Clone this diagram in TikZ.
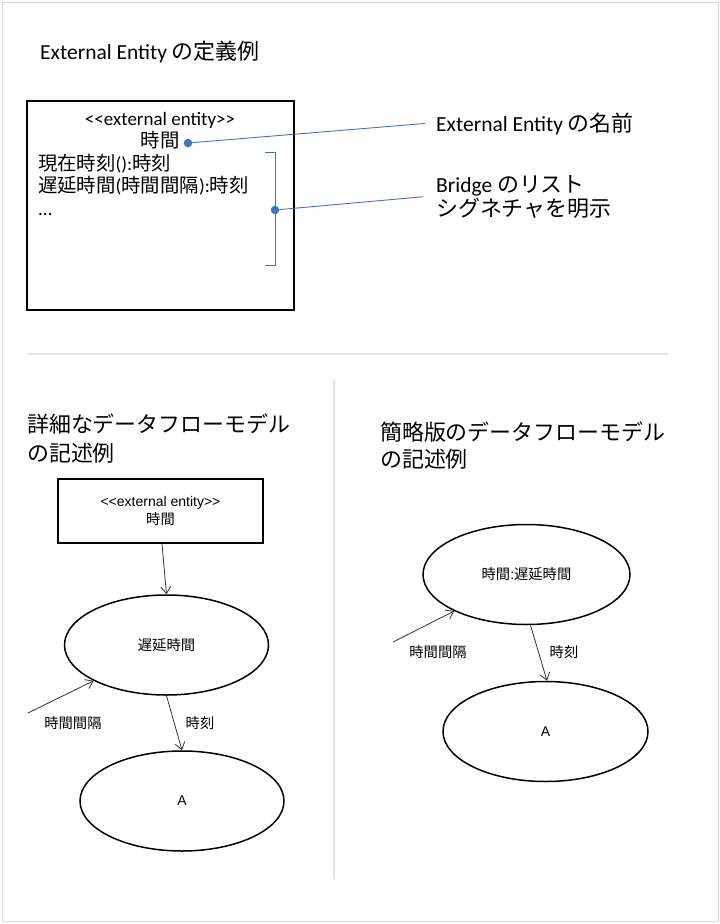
\documentclass[tikz,border=0pt]{standalone}
\usepackage{fontspec}
\setmainfont{Carlito}
\newfontfamily\jp[Scale=1.02]{Noto Sans CJK JP}
\newfontfamily\smallsans{Liberation Sans}
\newcommand\J[1]{{\jp #1}}
\usetikzlibrary{shapes.geometric,arrows.meta}
\definecolor{accent}{HTML}{4472C4}
\definecolor{framegray}{HTML}{D9D9D9}
\definecolor{sepgray}{HTML}{E4E4E4}
\begin{document}
\begin{tikzpicture}[x=1pt,y=-1pt,
  big/.style={inner sep=0pt, font=\fontsize{21.5}{29}\selectfont, align=left},
  boxtxt/.style={inner sep=0pt, font=\fontsize{19}{22.5}\selectfont},
  small/.style={inner sep=0pt, font=\smallsans\fontsize{14}{19}\selectfont},
  proc/.style={ellipse, draw=black, line width=1.5pt, minimum width=204pt, minimum height=100pt, inner sep=0pt, small},
  entity/.style={draw=black, line width=1.5pt, inner sep=0pt},
  flow/.style={draw=black!80, line width=0.8pt, -{Straight Barb[length=7pt,width=10pt]}},
  callout/.style={draw=accent, line width=0.9pt},
  dotmark/.style={circle, fill=accent, inner sep=0pt, minimum size=8.5pt},
  sepline/.style={draw=sepgray, line width=1.6pt},
]
\useasboundingbox (0,0) rectangle (720,924);
\draw[framegray, line width=1.5pt] (2.5,2.5) rectangle (718.5,921.5);

% ---------- top section ----------
\node[big, anchor=base west] (title1) at (40,59) {External Entity \J{の定義例}};

\node[entity, minimum width=267pt, minimum height=209pt] (defbox) at (160.5,205.5) {};
\node[boxtxt, anchor=base] (stereo) at (160,125) {<{}<external entity>{}>};
\node[boxtxt, anchor=base] (ename) at (160,147) {\J{時間}};
\node[boxtxt, anchor=base west, align=left] (ops) at (38,215)
  {\J{現在時刻}():\J{時刻}\\\J{遅延時間}(\J{時間間隔}):\J{時刻}\\...};

\coordinate (brtop) at (275,152);
\coordinate (brbot) at (275,265);
\draw[callout] ([xshift=-10pt]brtop) -- (brtop) -- (brbot) -- ([xshift=-10pt]brbot);

\node[dotmark] (dot1) at (188,143) {};
\node[dotmark] (dot2) at (275,210) {};

\node[big, anchor=base west] (lab1) at (436,131) {External Entity \J{の名前}};
\node[big, anchor=base west, font=\fontsize{21.5}{24.5}\selectfont] (lab2) at (436,216.5)
  {Bridge \J{のリスト}\\\J{シグネチャを明示}};

\draw[callout] (dot1) -- ([xshift=-11pt]lab1.west);
\draw[callout] (dot2) -- ([xshift=-13pt]lab2.west);

% ---------- separators ----------
\draw[sepline] (28,354) -- (668,354);
\draw[sepline] (334,380) -- (334,879);

% ---------- bottom left ----------
\node[big, anchor=base west] (title2) at (27,461) {\J{詳細なデータフローモデル}\\\J{の記述例}};

\node[entity, minimum width=205pt, minimum height=64pt, small, align=center] (ee) at (160.5,511)
  {<{}<external entity>{}>\\[-1pt]\J{時間}};
\node[proc] (e1) at (166.5,645) {\J{遅延時間}};
\node[proc] (e2) at (182,801) {A};

\coordinate (in1) at (28,713);
\draw[flow] ([xshift=1.5pt]ee.south) -- (e1.north);
\draw[flow] (in1) -- (e1);
\draw[flow] (e1.south) -- (e2.north);

\node[small] (l1) at (73,723) {\J{時間間隔}};
\node[small] (l2) at (200,723) {\J{時刻}};

% ---------- bottom right ----------
\node[big, anchor=base west, font=\fontsize{21.5}{27}\selectfont] (title3) at (380,467) {\J{簡略版のデータフローモデル}\\\J{の記述例}};

\node[proc, minimum width=207pt] (e3) at (526.5,574.5) {\J{時間}:\J{遅延時間}};
\node[proc, minimum width=205pt] (e4) at (545.5,731.5) {A};

\coordinate (in2) at (393,642);
\draw[flow] (in2) -- (e3);
\draw[flow] ([xshift=4pt]e3.south) -- ([xshift=1.5pt]e4.north);

\node[small] (l3) at (438,652) {\J{時間間隔}};
\node[small] (l4) at (564,652) {\J{時刻}};
\end{tikzpicture}
\end{document}
